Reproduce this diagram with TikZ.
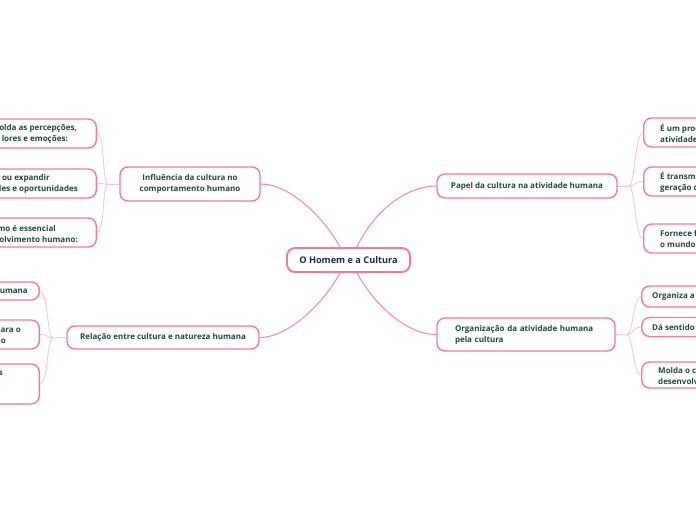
\documentclass[tikz,border=0pt]{standalone}
\usepackage{fontspec}
\setmainfont{Open Sans}
\definecolor{boxpink}{HTML}{EC7A9F}
\definecolor{mainline}{HTML}{F28DB0}
\definecolor{subline}{HTML}{F8BFD2}
\definecolor{txtgreen}{HTML}{1E4A38}
\definecolor{txtnavy}{HTML}{1C2B55}
\tikzset{
  topic/.style={draw=boxpink, line width=1.4pt, fill=white, rounded corners=8pt, inner sep=0pt, font=\fontsize{8}{11}\selectfont\bfseries, text=txtgreen, align=center},
  central/.style={draw=boxpink, line width=1.9pt, fill=white, rounded corners=8pt, inner sep=0pt, font=\fontsize{9.2}{11}\selectfont\bfseries, text=txtnavy},
  leaf/.style={draw=boxpink, line width=1.4pt, fill=white, rounded corners=8pt, inner sep=0pt},
  leaftxt/.style={inner sep=0pt, font=\fontsize{8}{11}\selectfont\bfseries, text=txtgreen},
  mainconn/.style={draw=mainline, line width=1.1pt},
  subconn/.style={draw=subline, line width=0.8pt},
}
\begin{document}
\begin{tikzpicture}[x=1pt,y=-1pt]
\useasboundingbox (0,0) rectangle (696,520);
\clip (0,0) rectangle (696,520);
\fill[white] (0,0) rectangle (696,520);

% central
\node[central, minimum width=123pt, minimum height=24pt] (c) at (348.5,260) {O Homem e a Cultura};

% branches
\node[topic, minimum width=140pt, minimum height=34pt] (b1) at (190,184) {Influência da cultura no\\comportamento humano};
\node[topic, minimum width=180pt, minimum height=24pt] (b2) at (527,186) {Papel da cultura na atividade humana};
\node[topic, minimum width=192pt, minimum height=23pt] (b3) at (163,337.5) {Relação entre cultura e natureza humana};
\node[topic, minimum width=178pt, minimum height=33pt, text width=142pt, align=left] (b4) at (526,334.5) {Organização da atividade humana\\pela cultura};

% main connectors
\draw[mainconn] ([xshift=-8.5pt]c.north) .. controls +(-15,-28) and +(30,0) .. (b1.east);
\draw[mainconn] ([xshift=8.5pt]c.north) .. controls +(15,-33) and +(-32,0) .. (b2.west);
\draw[mainconn] ([xshift=-8.5pt]c.south) .. controls +(-15,28) and +(30,0) .. (b3.east);
\draw[mainconn] ([xshift=8.5pt]c.south) .. controls +(15,28) and +(-32,0) .. (b4.west);

% leaves of b1 (left, clipped)
\node[leaf, minimum width=130pt, minimum height=29pt, anchor=east] (l11) at (97,133.5) {};
\node[leaf, minimum width=130pt, minimum height=29pt, anchor=east] (l12) at (97,183.5) {};
\node[leaf, minimum width=130pt, minimum height=29pt, anchor=east] (l13) at (97,232.5) {};
\node[leaftxt, anchor=east, align=right] (t11) at (77,133.5) {olda as percepções,\\lores e emoções:\hspace*{9pt}};
\node[leaftxt, anchor=east, align=right] (t12) at (78,183.5) {ou expandir\hspace*{28pt}\\des e oportunidades};
\node[leaftxt, anchor=east, align=right] (t13) at (78,233.5) {mo é essencial\hspace*{22pt}\\olvimento humano:};
\coordinate (j1) at (108,184);
\draw[subconn] (b1.west) -- (j1);
\foreach \n in {l11,l12,l13} \draw[subconn] (j1) .. controls +(-6,0) and +(8,0) .. (\n.east);

% leaves of b2 (right, clipped)
\node[leaf, minimum width=130pt, minimum height=29pt, anchor=west] (l21) at (643,132.5) {};
\node[leaf, minimum width=130pt, minimum height=29pt, anchor=west] (l22) at (643,181.5) {};
\node[leaf, minimum width=130pt, minimum height=29pt, anchor=west] (l23) at (643,238.5) {};
\node[leaftxt, anchor=west, align=left] (t21) at (660,133) {É um proc\\atividade};
\node[leaftxt, anchor=west, align=left] (t22) at (660,182) {É transm\\geração d};
\node[leaftxt, anchor=west, align=left] (t23) at (660,238.5) {Fornece f\\o mundo};
\coordinate (j2) at (629,186);
\draw[subconn] (b2.east) -- (j2);
\foreach \n in {l21,l22,l23} \draw[subconn] (j2) .. controls +(6,0) and +(-8,0) .. (\n.west);

% leaves of b3 (left, clipped)
\node[leaf, minimum width=130pt, minimum height=18pt, anchor=east] (l31) at (40,291) {};
\node[leaf, minimum width=130pt, minimum height=29pt, anchor=east] (l32) at (40,334.5) {};
\node[leaf, minimum width=130pt, minimum height=40pt, anchor=east] (l33) at (40,384) {};
\node[leaftxt, anchor=east] (t31) at (28,291) {umana};
\node[leaftxt, anchor=east, align=right] (t32) at (21,335.5) {ara o\\o\hspace*{15pt}};
\node[leaftxt, anchor=east] (t33) at (3,373) {s};
\coordinate (j3) at (53,338);
\draw[subconn] (b3.west) -- (j3);
\foreach \n in {l31,l32,l33} \draw[subconn] (j3) .. controls +(-6,0) and +(8,0) .. (\n.east);

% leaves of b4 (right, clipped)
\node[leaf, minimum width=130pt, minimum height=21pt, anchor=west] (l41) at (641,296.5) {};
\node[leaf, minimum width=130pt, minimum height=19pt, anchor=west] (l42) at (641,327) {};
\node[leaf, minimum width=130pt, minimum height=26pt, anchor=west] (l43) at (641,375) {};
\node[leaftxt, anchor=west] (t41) at (652,296.5) {Organiza a};
\node[leaftxt, anchor=west] (t42) at (652,327) {Dá sentido};
\node[leaftxt, anchor=west, align=left] (t43) at (658,376) {Molda o c\\desenvolv};
\coordinate (j4) at (627,335);
\draw[subconn] (b4.east) -- (j4);
\foreach \n in {l41,l42,l43} \draw[subconn] (j4) .. controls +(6,0) and +(-8,0) .. (\n.west);
\end{tikzpicture}
\end{document}
